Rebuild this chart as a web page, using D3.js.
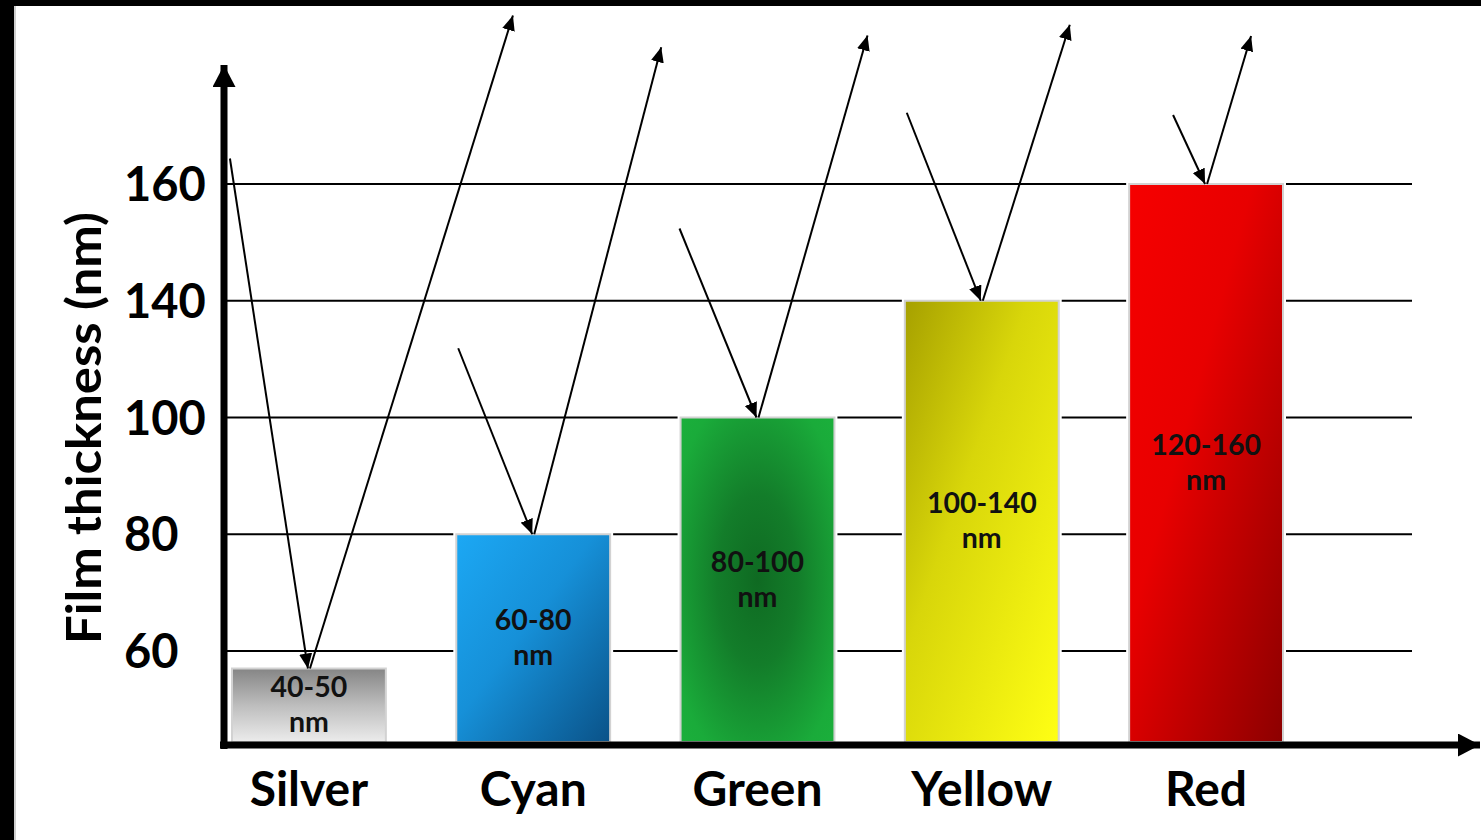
<!DOCTYPE html>
<html><head><meta charset="utf-8">
<script src="https://cdn.jsdelivr.net/npm/d3@7"></script>
<style>html,body{margin:0;padding:0;background:#fff;overflow:hidden}</style>
</head><body><svg id="c" width="1481" height="840"></svg>
<script>
// ---- data ----
const categories = ["Silver", "Cyan", "Green", "Yellow", "Red"];
const thickness = [57, 80, 100, 140, 160];
const rangeLabels = ["40-50", "60-80", "80-100", "100-140", "120-160"];
const unitLabel = "nm";
const tickValues = [60, 80, 100, 140, 160];
const yTitle = "Film thickness (nm)";
// incident / reflected ray annotations: offsets from each bar-top anchor
const rayIn = [[-79, -510], [-75, -186], [-78, -189], [-75, -188], [-33, -69]];
const rayOut = [[204, -653], [128, -487], [110, -382], [88, -276], [45, -148]];

// ---- layout ----
const W = 1481, H = 840;
const axisX = 224, axisY = 745, gridEnd = 1412;
const font = "Lato, 'Open Sans', sans-serif";

const svg = d3.select("#c");
svg.append("rect").attr("width", W).attr("height", H).attr("fill", "#fff");
// photo frame edges
svg.append("rect").attr("x", 0).attr("y", 0).attr("width", W).attr("height", 6).attr("fill", "#000");
svg.append("rect").attr("x", 0).attr("y", 0).attr("width", 14).attr("height", H).attr("fill", "#000");
svg.append("rect").attr("x", 14).attr("y", 6).attr("width", 2).attr("height", H).attr("fill", "#cfcfcf");

const x = d3.scaleBand().domain(categories).range([232, 1283]).paddingInner(0.314).paddingOuter(0);
const yIdx = d3.scaleLinear().domain([0, tickValues.length - 1]).range([651, 184]);
const y = d3.scaleLinear().domain(tickValues).range(tickValues.map((d, i) => yIdx(i)));

const defs = svg.append("defs");
function lin(id, x1, y1, x2, y2, stops) {
  const g = defs.append("linearGradient").attr("id", id)
    .attr("x1", x1).attr("y1", y1).attr("x2", x2).attr("y2", y2);
  stops.forEach(s => g.append("stop").attr("offset", s[0]).attr("stop-color", s[1]));
}
lin("g0", 0, 0, 0, 1, [[0, "#858585"], [0.5, "#bdbdbd"], [1, "#ececec"]]);
lin("g1", 0, 0, 1, 1, [[0, "#1ca8f4"], [0.45, "#1690d8"], [1, "#0a5288"]]);
const rg = defs.append("radialGradient").attr("id", "g2").attr("cx", 0.5).attr("cy", 0.5).attr("r", 0.75);
[[0, "#0f6a22"], [0.35, "#137d2a"], [0.8, "#1aab3a"], [1, "#1bb13c"]].forEach(s => rg.append("stop").attr("offset", s[0]).attr("stop-color", s[1]));
lin("g3", 0, 0, 1, 1, [[0, "#a6a000"], [0.4, "#d8d60a"], [1, "#ffff14"]]);
lin("g4", 0, 0, 1, 1, [[0, "#f60000"], [0.4, "#e80000"], [1, "#8c0000"]]);

function marker(id, len, wid) {
  defs.append("marker").attr("id", id).attr("markerUnits", "userSpaceOnUse")
    .attr("viewBox", `0 0 ${len} ${wid}`).attr("markerWidth", len).attr("markerHeight", wid)
    .attr("refX", len).attr("refY", wid / 2).attr("orient", "auto")
    .append("path").attr("d", `M0,0L${len},${wid / 2}L0,${wid}Z`).attr("fill", "#000");
}
marker("ray", 15, 13);
marker("ax", 22, 23);

// gridlines
svg.append("g").selectAll("line").data(tickValues).join("line")
  .attr("x1", axisX).attr("x2", gridEnd)
  .attr("y1", d => y(d)).attr("y2", d => y(d))
  .attr("stroke", "#000").attr("stroke-width", 2);

// bars
const bars = svg.append("g").selectAll("g").data(categories).join("g");
bars.append("rect")
  .attr("x", d => x(d)).attr("width", x.bandwidth())
  .attr("y", (d, i) => y(thickness[i]))
  .attr("height", (d, i) => axisY - 3 - y(thickness[i]))
  .attr("fill", "none").attr("stroke", "#fff").attr("stroke-width", 6);
bars.append("rect")
  .attr("x", d => x(d)).attr("width", x.bandwidth())
  .attr("y", (d, i) => y(thickness[i]))
  .attr("height", (d, i) => axisY - 3 - y(thickness[i]))
  .attr("fill", (d, i) => `url(#g${i})`).attr("stroke", "#d2d2d2").attr("stroke-width", 2);

// bar labels
bars.each(function (d, i) {
  const cx = x(d) + x.bandwidth() / 2;
  const mid = (y(thickness[i]) + axisY - 3) / 2;
  const g = d3.select(this);
  g.append("text").attr("x", cx).attr("y", mid - 8).text(rangeLabels[i]);
  g.append("text").attr("x", cx).attr("y", mid + 27).text(unitLabel);
  g.selectAll("text").attr("text-anchor", "middle").attr("font-family", font)
    .attr("font-weight", 700).attr("font-size", 28.5).attr("fill", "#111");
});

// rays
const anchor = (d, i) => [x(d) + x.bandwidth() / 2, y(thickness[i])];
const rays = svg.append("g").attr("stroke", "#000").attr("stroke-width", 2).attr("fill", "none");
rays.selectAll("line.in").data(categories).join("line").attr("class", "in")
  .attr("x1", (d, i) => anchor(d, i)[0] + rayIn[i][0]).attr("y1", (d, i) => anchor(d, i)[1] + rayIn[i][1])
  .attr("x2", (d, i) => anchor(d, i)[0] - 1).attr("y2", (d, i) => anchor(d, i)[1])
  .attr("marker-end", "url(#ray)");
rays.selectAll("line.out").data(categories).join("line").attr("class", "out")
  .attr("x1", (d, i) => anchor(d, i)[0] + 1).attr("y1", (d, i) => anchor(d, i)[1])
  .attr("x2", (d, i) => anchor(d, i)[0] + rayOut[i][0]).attr("y2", (d, i) => anchor(d, i)[1] + rayOut[i][1])
  .attr("marker-end", "url(#ray)");

// axes
svg.append("line").attr("x1", axisX).attr("x2", axisX).attr("y1", axisY + 4).attr("y2", 65)
  .attr("stroke", "#000").attr("stroke-width", 7).attr("marker-end", "url(#ax)");
svg.append("line").attr("x1", axisX - 4).attr("x2", 1480).attr("y1", axisY).attr("y2", axisY)
  .attr("stroke", "#000").attr("stroke-width", 7).attr("marker-end", "url(#ax)");

// y tick labels
svg.append("g").selectAll("text").data(tickValues).join("text")
  .attr("x", 124).attr("y", d => y(d) + 17)
  .attr("font-family", font).attr("font-weight", 700).attr("font-size", 47).attr("fill", "#000")
  .text(d => d);

// x category labels
svg.append("g").selectAll("text").data(categories).join("text")
  .attr("x", d => x(d) + x.bandwidth() / 2).attr("y", 806)
  .attr("text-anchor", "middle")
  .attr("font-family", font).attr("font-weight", 700).attr("font-size", 48).attr("fill", "#000")
  .text(d => d);

// y title
svg.append("text").attr("transform", "translate(101,428) rotate(-90)")
  .attr("text-anchor", "middle").attr("font-family", font).attr("font-weight", 700)
  .attr("font-size", 48).attr("fill", "#000")
  .attr("textLength", 432).attr("lengthAdjust", "spacingAndGlyphs").text(yTitle);
</script></body></html>
